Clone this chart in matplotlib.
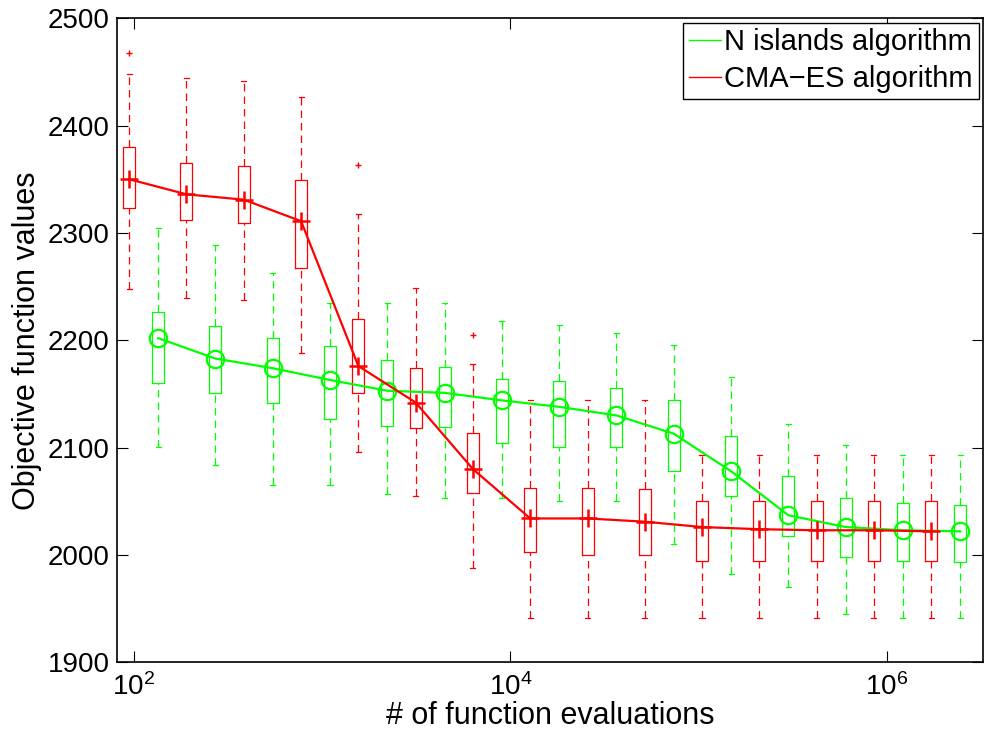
import matplotlib
matplotlib.use("Agg")
import matplotlib.pyplot as plt
from matplotlib.lines import Line2D
from matplotlib.ticker import FixedLocator, NullLocator, LogFormatterSciNotation

plt.rcParams['font.family'] = ['Liberation Sans', 'DejaVu Sans']
plt.rcParams['mathtext.fontset'] = 'custom'
plt.rcParams['mathtext.rm'] = 'Liberation Sans'
plt.rcParams['mathtext.it'] = 'Liberation Sans'
plt.rcParams['mathtext.default'] = 'regular'

# ---------------- data ----------------
red_evals = [94.4, 190.2, 383.4, 772.6, 1557, 3138, 6323, 12742, 25678, 51747,
             104200, 210100, 423200, 852900, 1718800]
red_hi = [2448, 2444, 2442, 2427, 2318, 2249, 2178, 2144, 2144, 2144, 2093, 2093, 2093, 2093, 2093]
red_q3 = [2380, 2365, 2362, 2349, 2220, 2174, 2114, 2062, 2062, 2061, 2050, 2050, 2050, 2050, 2050]
red_med = [2350, 2336, 2331, 2311, 2176, 2142, 2080, 2034, 2034, 2031, 2026, 2024, 2023, 2023, 2022]
red_q1 = [2323, 2312, 2309, 2267, 2151, 2118, 2058, 2003, 2000, 2000, 1994, 1994, 1994, 1994, 1994]
red_lo = [2248, 2239, 2238, 2188, 2096, 2055, 1988, 1941, 1941, 1941, 1941, 1941, 1941, 1941, 1941]
red_out = [[2468], [], [], [], [2363], [], [2205], [], [], [], [], [], [], [], []]

green_evals = [134.6, 271, 546, 1101, 2219, 4472, 9011, 18160, 36590, 73740,
               148600, 299400, 603300, 1215800, 2450000]
green_hi = [2305, 2289, 2263, 2235, 2235, 2235, 2218, 2214, 2207, 2196, 2166, 2122, 2102, 2093, 2093]
green_q3 = [2226, 2213, 2202, 2195, 2182, 2175, 2164, 2162, 2156, 2144, 2111, 2074, 2053, 2048, 2047]
green_med = [2202, 2183, 2174, 2163, 2153, 2151, 2144, 2138, 2130, 2113, 2078, 2037, 2026, 2023, 2022]
green_q1 = [2160, 2151, 2142, 2127, 2120, 2119, 2104, 2101, 2101, 2078, 2055, 2018, 1998, 1994, 1993]
green_lo = [2101, 2084, 2065, 2065, 2057, 2053, 2053, 2050, 2050, 2010, 1982, 1970, 1945, 1941, 1941]
green_out = [[] for _ in range(15)]

labels = ['N islands algorithm', 'CMA\u2212ES algorithm']
xlabel = '# of function evaluations'
ylabel = 'Objective function values'
yticks = [1900, 2000, 2100, 2200, 2300, 2400, 2500]
xticks = [1e2, 1e4, 1e6]

GREEN = '#00ff00'
RED = '#ff0000'

fig = plt.figure(figsize=(9.84, 7.40), dpi=100)
ax = fig.add_axes([0.1186, 0.105, 0.8804, 0.8703])
ax.set_xscale('log')

BOX_HALF = 10 ** 0.0319   # box half-width (log factor)
CAP_HALF = 10 ** 0.0135
DASH = (0, (6, 4))

def draw_boxes(evals, lo, q1, med, q3, hi, outs, color):
    for p, l, a, m, b, h, o in zip(evals, lo, q1, med, q3, hi, outs):
        ax.plot([p / BOX_HALF, p * BOX_HALF, p * BOX_HALF, p / BOX_HALF, p / BOX_HALF],
                [a, a, b, b, a], color=color, lw=0.9, zorder=2)
        ax.plot([p, p], [b, h], color=color, lw=0.9, ls=DASH, zorder=2)
        ax.plot([p, p], [l, a], color=color, lw=0.9, ls=DASH, zorder=2)
        ax.plot([p / CAP_HALF, p * CAP_HALF], [h, h], color=color, lw=0.9, zorder=2)
        ax.plot([p / CAP_HALF, p * CAP_HALF], [l, l], color=color, lw=0.9, zorder=2)
        if o:
            ax.plot([p] * len(o), o, ls='none', marker='+', ms=5, mew=1.0,
                    color=color, zorder=2)

draw_boxes(green_evals, green_lo, green_q1, green_med, green_q3, green_hi, green_out, GREEN)
draw_boxes(red_evals, red_lo, red_q1, red_med, red_q3, red_hi, red_out, RED)

ax.plot(green_evals, green_med, color=GREEN, lw=1.6, marker='o', ms=12.5,
        mfc='none', mec=GREEN, mew=1.6, zorder=3)
ax.plot(red_evals, red_med, color=RED, lw=1.6, marker='+', ms=13,
        mew=1.8, zorder=4)

ax.set_xlim(81, 3.24e6)
ax.set_ylim(1900, 2500)
ax.xaxis.set_major_locator(FixedLocator(xticks))
ax.xaxis.set_major_formatter(LogFormatterSciNotation())
ax.xaxis.set_minor_locator(NullLocator())
ax.set_yticks(yticks)
ax.tick_params(direction='in', length=8, width=0.8, top=True, right=True,
               labelsize=20, colors='black', pad=5)
ax.tick_params(axis='x', pad=8)
for s in ax.spines.values():
    s.set_linewidth(1.2)
    s.set_color('black')

ax.set_xlabel(xlabel, fontsize=22, labelpad=0)
ax.set_ylabel(ylabel, fontsize=22, labelpad=4)

handles = [Line2D([], [], color=GREEN, lw=1.0), Line2D([], [], color=RED, lw=1.0)]
leg = ax.legend(handles, labels, loc='upper right', fontsize=21, frameon=True,
                fancybox=False, edgecolor='black', framealpha=1,
                borderaxespad=0.15, borderpad=0.2, handlelength=1.1,
                handletextpad=0.12, labelspacing=0.3)
leg.get_frame().set_linewidth(1.0)

fig.savefig('out.png', dpi=100)
